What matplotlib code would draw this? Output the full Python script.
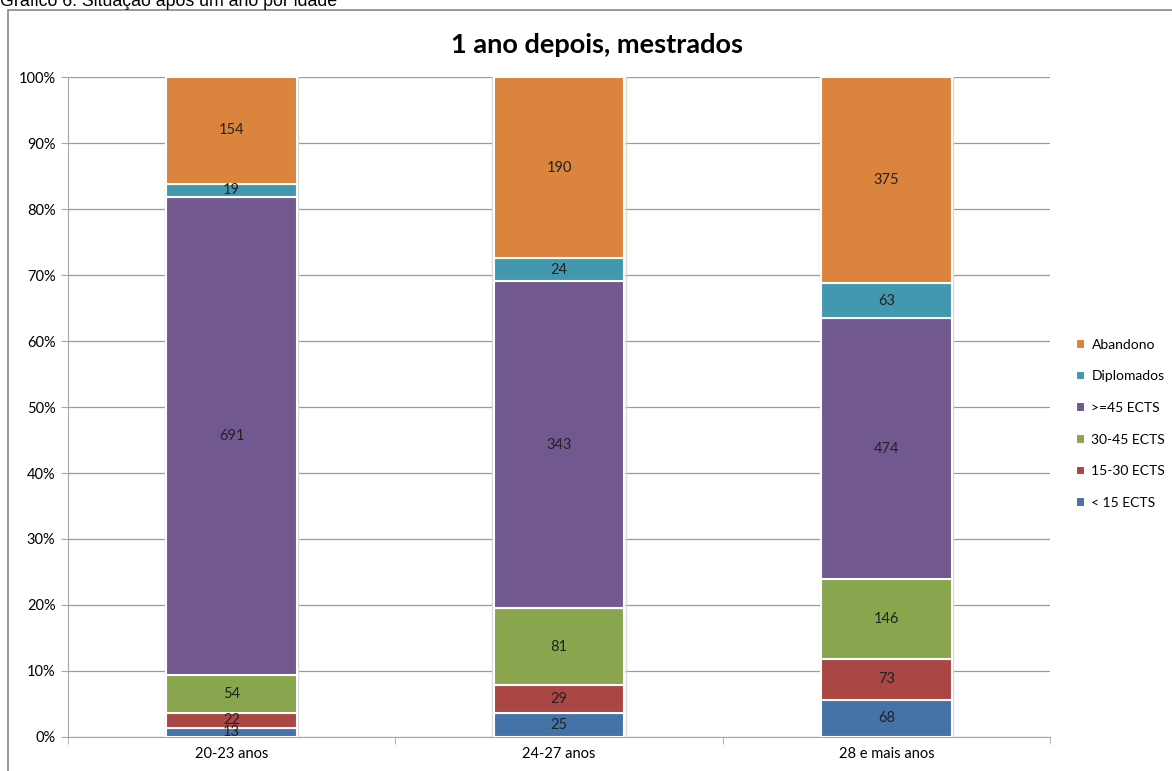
import matplotlib
matplotlib.use("Agg")
import matplotlib.pyplot as plt
import numpy as np
from matplotlib.patches import Rectangle

categories = ["20-23 anos", "24-27 anos", "28 e mais anos"]
series_names = ["< 15 ECTS", "15-30 ECTS", "30-45 ECTS", ">=45 ECTS", "Diplomados", "Abandono"]
lt15 = [13, 25, 68]
e15_30 = [22, 29, 73]
e30_45 = [54, 81, 146]
ge45 = [691, 343, 474]
diplomados = [19, 24, 63]
abandono = [154, 190, 375]
colors = ["#4572A7", "#AA4643", "#89A54E", "#71588F", "#4198AF", "#DB843D"]

series = [lt15, e15_30, e30_45, ge45, diplomados, abandono]
data = np.array(series, dtype=float)
totals = data.sum(axis=0)
pct = data / totals * 100

W, H = 1172, 771
fig = plt.figure(figsize=(W / 100, H / 100), dpi=100)
fig.patch.set_facecolor("white")

# outer chart border
fig.patches.append(Rectangle((8 / W, -0.01), 1.2, (H - 10) / H + 0.01, transform=fig.transFigure,
                             fill=False, edgecolor="#888888", linewidth=1.2))
fig.text(0 / W, 1 - 6 / H, "Gráfico 6: Situação após um ano por idade", fontsize=12.8,
         family="Liberation Sans", ha="left", va="baseline")

fig.text(597 / W, 1 - 45 / H, "1 ano depois, mestrados", fontsize=19.5, fontweight="bold",
         family="Lato", ha="center", va="center")

ax = fig.add_axes([68 / W, 1 - 737 / H, (1050 - 68) / W, (737 - 77) / H])
x = np.arange(len(categories))
bottom = np.zeros(len(categories))
handles = []
for i, name in enumerate(series_names):
    b = ax.bar(x, pct[i], 0.4, bottom=bottom, color=colors[i], edgecolor="white",
               linewidth=1.5, label=name, zorder=3)
    handles.append(b)
    for j in range(len(categories)):
        ax.text(x[j], bottom[j] + pct[i][j] / 2, f"{int(data[i][j])}", ha="center", va="center",
                fontsize=10.5, family="Lato", color="#222222", zorder=4)
    bottom += pct[i]
# light gray outline around each bar stack
for j in range(len(categories)):
    ax.add_patch(Rectangle((x[j] - 0.2 - 0.004, 0), 0.408, 100, fill=False,
                           edgecolor="#d9d9d9", linewidth=1.0, zorder=2.9))

ax.set_xlim(-0.5, 2.5)
ax.set_ylim(0, 100)
ax.set_yticks(np.arange(0, 101, 10))
ax.set_yticklabels([f"{v}%" for v in range(0, 101, 10)], family="Lato", fontsize=10.5)
ax.set_xticks(x)
ax.set_xticklabels(categories, family="Lato", fontsize=10.5)
ax.set_xticks([-0.5, 0.5, 1.5, 2.5], minor=True)
ax.tick_params(axis="x", which="major", length=0, pad=7)
ax.tick_params(axis="x", which="minor", length=5, color="#a6a6a6", direction="out")
ax.tick_params(axis="y", length=5, color="#a6a6a6", pad=4)
ax.yaxis.grid(True, color="#9a9a9a", linewidth=0.9, zorder=0)
for s in ["top", "right"]:
    ax.spines[s].set_visible(False)
ax.spines["left"].set_color("#a6a6a6")
ax.spines["bottom"].set_color("#a6a6a6")

leg = fig.legend(handles[::-1], series_names[::-1], loc="upper left",
                 bbox_to_anchor=(1063 / W, 1 - 326 / H), frameon=False,
                 prop={"family": "Lato", "size": 10}, handlelength=0.7, handleheight=0.7,
                 labelspacing=1.42, handletextpad=0.45)

fig.savefig("out.png", dpi=100)
